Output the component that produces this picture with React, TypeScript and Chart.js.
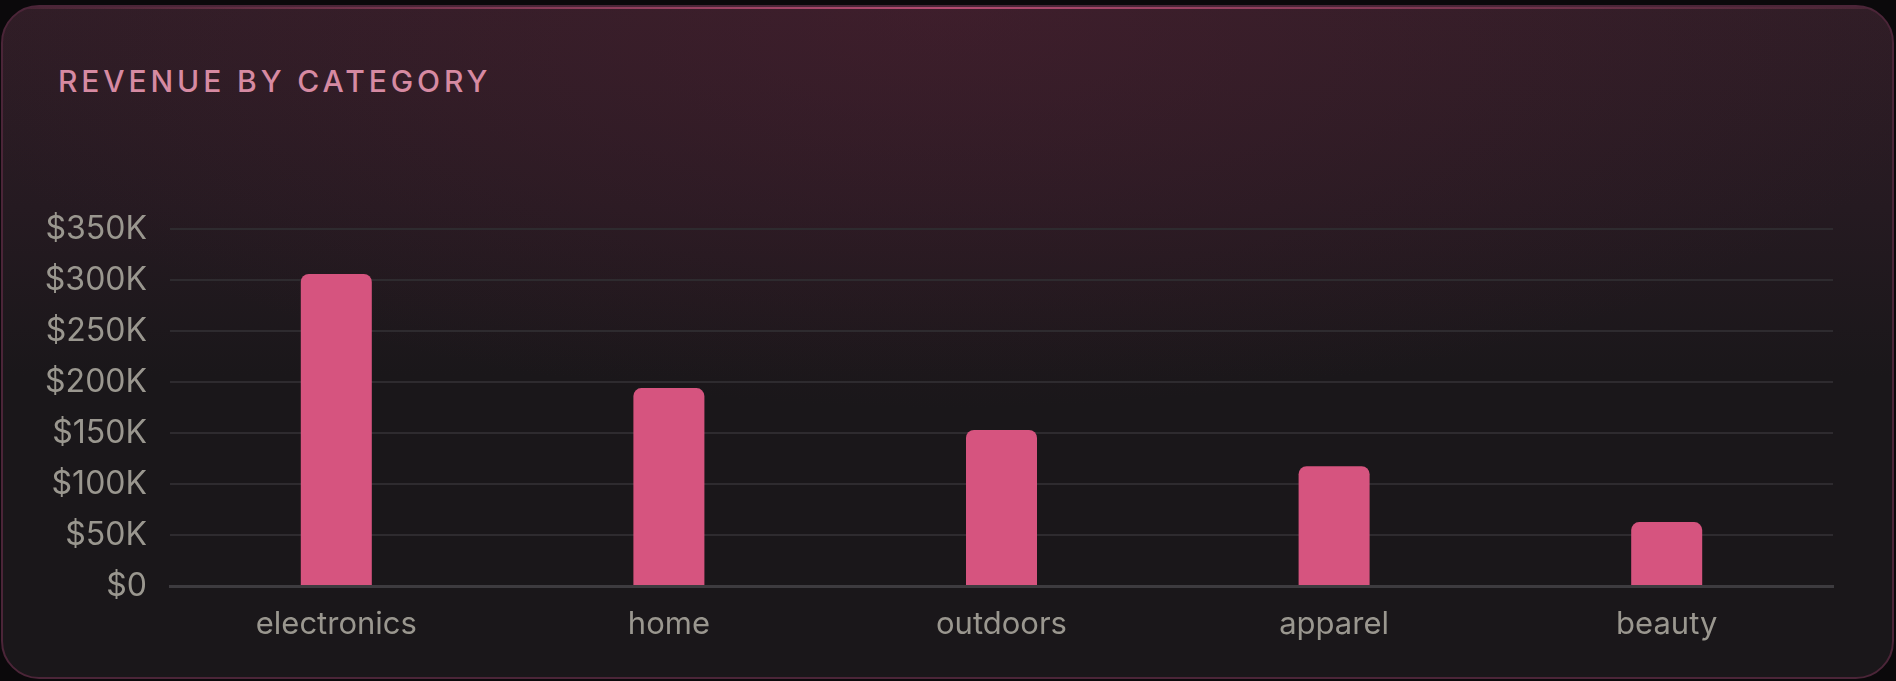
import { useEffect, useRef } from "react";
import { Chart } from "chart.js/auto";

const categories = ["electronics", "home", "outdoors", "apparel", "beauty"];
const revenue = [306000, 194000, 153000, 117500, 62700];
const yMax = 350000;
const yStep = 50000;

const formatTick = (value: number) => (value === 0 ? "$0" : `$${value / 1000}K`);

const RevenueChart = () => {
    const chartRef = useRef<HTMLCanvasElement>(null);
    const chartInstance = useRef<Chart | null>(null);

    useEffect(() => {
        if (!chartRef.current) return;
        const ctx = chartRef.current.getContext("2d");
        if (!ctx) return;

        chartInstance.current = new Chart(ctx, {
            type: "bar",
            data: {
                labels: categories,
                datasets: [
                    {
                        label: "Revenue",
                        data: revenue,
                        backgroundColor: "#d6547f",
                        borderRadius: 8,
                        borderSkipped: "bottom",
                        categoryPercentage: 1,
                        barPercentage: 0.2135,
                    },
                ],
            },
            options: {
                responsive: true,
                maintainAspectRatio: false,
                animation: false,
                layout: { autoPadding: false, padding: { top: 29, right: 63, left: 0, bottom: 0 } },
                plugins: {
                    legend: { display: false },
                    tooltip: { enabled: false },
                    title: { display: false },
                },
                scales: {
                    x: {
                        // fixed box sizes so the plot area lands where the design has it
                        afterFit: (scale: any) => {
                            scale.height = 74;
                            scale.paddingLeft = 0;
                            scale.paddingRight = 0;
                        },
                        grid: { display: false, drawTicks: false },
                        border: { color: "#3d3b3f", width: 3 },
                        ticks: {
                            color: "#9a978f",
                            padding: 20,
                            font: { family: "Inter", size: 31 },
                        },
                    },
                    y: {
                        min: 0,
                        max: yMax,
                        afterFit: (scale: any) => {
                            scale.width = 170;
                            scale.paddingTop = 0;
                            scale.paddingBottom = 0;
                        },
                        grid: { color: "#2e2b2f", lineWidth: 2, drawTicks: false },
                        border: { display: false },
                        ticks: {
                            stepSize: yStep,
                            color: "#9a978f",
                            padding: 23,
                            font: { family: "Inter", size: 32 },
                            callback: (value: any) => formatTick(Number(value)),
                        },
                    },
                },
            },
        });

        return () => {
            if (chartInstance.current) {
                chartInstance.current.destroy();
                chartInstance.current = null;
            }
        };
    }, []);

    return (
        <div style={{ position: "absolute", left: 0, top: 200, width: 1896, height: 460 }}>
            <canvas ref={chartRef}></canvas>
        </div>
    );
};

const App = () => {
    return (
        <div
            style={{
                position: "fixed",
                inset: 0,
                width: 1896,
                height: 681,
                background: "#0b090b",
                overflow: "hidden",
                fontFamily: "Inter, sans-serif",
            }}
        >
            <div
                style={{
                    position: "absolute",
                    left: 1,
                    top: 5,
                    width: 1893,
                    height: 674,
                    boxSizing: "border-box",
                    border: "2px solid #4b2538",
                    borderRadius: 38,
                    overflow: "hidden",
                    background:
                        "radial-gradient(ellipse 55% 60% at 50% 0%, rgba(85, 32, 52, 0.4), rgba(85, 32, 52, 0) 100%), linear-gradient(180deg, #2f1d26 0%, #251a21 30%, #1a171a 55%, #1a171a 100%)",
                }}
            >
                <div
                    style={{
                        position: "absolute",
                        left: 0,
                        right: 0,
                        top: 0,
                        height: 2,
                        background:
                            "linear-gradient(90deg, rgba(190, 80, 120, 0.15) 0%, rgba(200, 84, 125, 0.85) 50%, rgba(190, 80, 120, 0.15) 100%)",
                    }}
                />
                <div
                    style={{
                        position: "absolute",
                        left: 55,
                        top: 59,
                        color: "#d68aa2",
                        fontSize: 30,
                        lineHeight: "30px",
                        fontWeight: 500,
                        letterSpacing: "0.13em",
                        whiteSpace: "nowrap",
                    }}
                >
                    REVENUE BY CATEGORY
                </div>
            </div>
            <RevenueChart />
        </div>
    );
};

export default App;
